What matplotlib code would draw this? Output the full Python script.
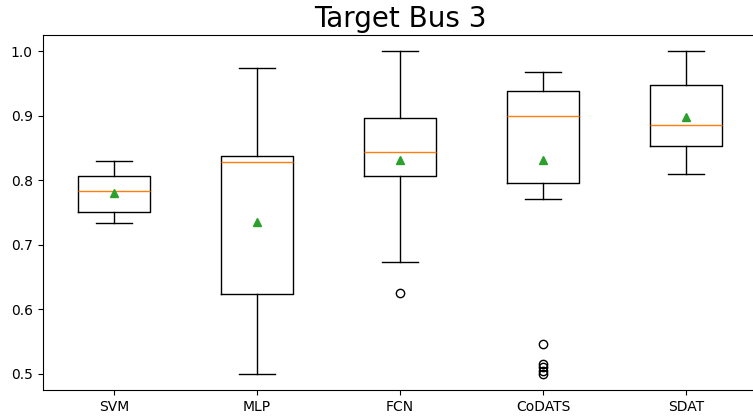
import matplotlib
matplotlib.use('Agg')
import matplotlib.pyplot as plt

models = ['SVM', 'MLP', 'FCN', 'CoDATS', 'SDAT']

# box statistics per model (accuracy on target bus 3)
whis_low = [0.733, 0.500, 0.673, 0.771, 0.810]
q1 = [0.751, 0.623, 0.807, 0.795, 0.853]
median = [0.783, 0.828, 0.843, 0.899, 0.885]
q3 = [0.806, 0.837, 0.897, 0.938, 0.948]
whis_high = [0.830, 0.974, 1.000, 0.968, 1.000]
mean = [0.780, 0.736, 0.832, 0.831, 0.898]
fliers = [[], [], [0.626], [0.547, 0.516, 0.510, 0.505, 0.500], []]

stats = []
for i, name in enumerate(models):
    stats.append({
        'label': name,
        'whislo': whis_low[i], 'q1': q1[i], 'med': median[i],
        'q3': q3[i], 'whishi': whis_high[i], 'mean': mean[i],
        'fliers': fliers[i],
    })

fig = plt.figure(figsize=(7.53, 4.16), dpi=100)
# axes runs slightly past the right edge of the canvas
ax = fig.add_axes([42.5 / 753, 26 / 416, 715 / 753, 355 / 416])
ax.bxp(stats, showmeans=True)
ax.spines['right'].set_visible(False)
ax.set_title('Target Bus 3', fontsize=20)
fig.savefig('out.png', dpi=100)
